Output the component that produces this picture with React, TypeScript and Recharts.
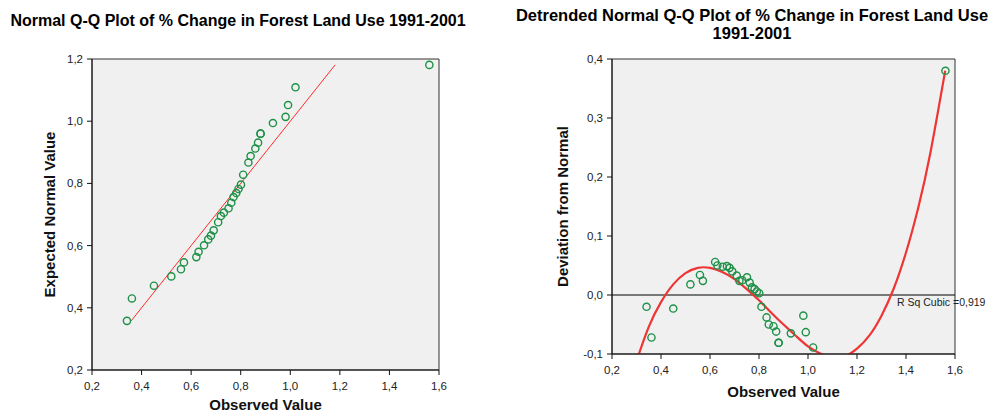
import { ComposedChart, Scatter, Line, XAxis, YAxis, CartesianGrid, ReferenceLine, ReferenceArea, Label } from "recharts";

// observed values (shared by both plots)
const observed = [0.341, 0.361, 0.45, 0.52, 0.559, 0.571, 0.621, 0.63, 0.652, 0.669, 0.68, 0.691, 0.709, 0.72, 0.732, 0.751, 0.762, 0.771, 0.782, 0.791, 0.801, 0.81, 0.831, 0.84, 0.859, 0.87, 0.88, 0.88, 0.93, 0.981, 0.991, 1.021, 1.561];
const expected = [0.358, 0.43, 0.471, 0.501, 0.524, 0.546, 0.563, 0.58, 0.601, 0.62, 0.632, 0.649, 0.675, 0.695, 0.706, 0.72, 0.738, 0.756, 0.769, 0.782, 0.796, 0.828, 0.867, 0.888, 0.912, 0.931, 0.96, 0.96, 0.994, 1.014, 1.052, 1.109, 1.181];
const deviation = [-0.02, -0.072, -0.023, 0.018, 0.034, 0.024, 0.056, 0.05, 0.048, 0.049, 0.046, 0.04, 0.033, 0.024, 0.025, 0.03, 0.021, 0.013, 0.01, 0.006, 0.003, -0.02, -0.038, -0.05, -0.053, -0.062, -0.081, -0.081, -0.065, -0.035, -0.063, -0.089, 0.38];

// reference line of the normal plot
const lineX = [0.358, 1.181];
const lineY = [0.358, 1.181];

// cubic fit curve of the detrended plot
const curveX = [0.3, 0.35, 0.4, 0.45, 0.5, 0.55, 0.6, 0.65, 0.7, 0.75, 0.8, 0.85, 0.9, 0.95, 1.0, 1.05, 1.1, 1.15, 1.2, 1.25, 1.3, 1.35, 1.4, 1.45, 1.5, 1.56];
const curveY = [-0.112, -0.054, -0.012, 0.018, 0.037, 0.046, 0.046, 0.039, 0.027, 0.01, -0.009, -0.03, -0.05, -0.069, -0.087, -0.099, -0.106, -0.104, -0.091, -0.069, -0.035, 0.011, 0.072, 0.148, 0.242, 0.38];

const xTicks = [0.2, 0.4, 0.6, 0.8, 1.0, 1.2, 1.4, 1.6];
const leftYTicks = [0.2, 0.4, 0.6, 0.8, 1.0, 1.2];
const rightYTicks = [-0.1, 0.0, 0.1, 0.2, 0.3, 0.4];

const qqData = observed.map((x, i) => ({ x, y: expected[i] }));
const detData = observed.map((x, i) => ({ x, y: deviation[i] }));
const lineData = lineX.map((x, i) => ({ x, y: lineY[i] }));
const curveData = curveX.map((x, i) => ({ x, y: curveY[i] }));

const FONT = '"Liberation Sans", Arial, sans-serif';
const fmt = (v: number) => v.toFixed(1).replace(".", ",");
const tickStyle = { fontSize: 11.5, fill: "#222", fontFamily: FONT };
const labelStyle = { fontSize: 15, fontWeight: 700, fill: "#111", fontFamily: FONT };

const Ring = (props: any) => (
  <circle cx={props.cx} cy={props.cy} r={3.6} fill="none" stroke="#1d9147" strokeWidth={1.4} />
);

export default function App() {
  return (
    <div style={{ position: "absolute", left: 0, top: 0, width: 991, height: 413, background: "#fff", fontFamily: FONT }}>
      <div style={{ position: "absolute", left: 0, top: 12, width: 476, textAlign: "center", fontSize: 16, fontWeight: 700, lineHeight: "18px", whiteSpace: "nowrap" }}>
        Normal Q-Q Plot of % Change in Forest Land Use 1991-2001
      </div>
      <div style={{ position: "absolute", left: 502, top: 7, width: 500, textAlign: "center", fontSize: 16.5, fontWeight: 700, lineHeight: "17.6px", whiteSpace: "nowrap" }}>
        Detrended Normal Q-Q Plot of % Change in Forest Land Use
        <br />
        1991-2001
      </div>

      <div style={{ position: "absolute", left: 0, top: 0 }}>
        <ComposedChart width={495} height={413} margin={{ top: 59, right: 56, bottom: 0, left: 0 }}>
          <CartesianGrid fill="#f0f0f0" horizontal={false} vertical={false} />
          <ReferenceArea x1={0.2} x2={1.6} y1={0.2} y2={1.2} fill="none" stroke="#333" strokeWidth={1} />
          <XAxis type="number" dataKey="x" domain={[0.2, 1.6]} ticks={xTicks} tickFormatter={fmt} height={43}
            stroke="#111" tickSize={5} tickMargin={7} tick={tickStyle}>
            <Label value="Observed Value" position="center" dy={13} style={labelStyle} />
          </XAxis>
          <YAxis type="number" dataKey="y" domain={[0.2, 1.2]} ticks={leftYTicks} tickFormatter={fmt} width={92}
            stroke="#111" tickSize={5} tickMargin={4} tick={tickStyle}>
            <Label value="Expected Normal Value" position="center" angle={-90} dx={4} style={labelStyle} />
          </YAxis>
          <Line data={lineData} dataKey="y" type="linear" stroke="#ff2a2a" strokeWidth={1} dot={false} isAnimationActive={false} />
          <Scatter data={qqData} dataKey="y" shape={Ring} isAnimationActive={false} />
        </ComposedChart>
      </div>

      <div style={{ position: "absolute", left: 495, top: 0 }}>
        <ComposedChart width={496} height={413} margin={{ top: 59, right: 36, bottom: 0, left: 0 }}>
          <CartesianGrid fill="#f0f0f0" horizontal={false} vertical={false} />
          <ReferenceArea x1={0.2} x2={1.6} y1={-0.1} y2={0.4} fill="none" stroke="#333" strokeWidth={1} />
          <XAxis type="number" dataKey="x" domain={[0.2, 1.6]} ticks={xTicks} tickFormatter={fmt} height={59}
            stroke="#111" tickSize={5} tickMargin={7} tick={tickStyle}>
            <Label value="Observed Value" position="center" dy={8} style={labelStyle} />
          </XAxis>
          <YAxis type="number" dataKey="y" domain={[-0.1, 0.4]} ticks={rightYTicks} tickFormatter={fmt} width={117}
            allowDataOverflow stroke="#111" tickSize={5} tickMargin={4} tick={tickStyle}>
            <Label value="Deviation from Normal" position="center" angle={-90} dx={9} style={labelStyle} />
          </YAxis>
          <ReferenceLine y={0} stroke="#000" strokeWidth={1}
            label={(p: any) => (
              <text x={p.viewBox.x + p.viewBox.width - 58} y={p.viewBox.y + 11} fontSize={10.5} fill="#222" fontFamily={FONT}>
                R Sq Cubic =0,919
              </text>
            )} />
          <Line data={curveData} dataKey="y" type="natural" stroke="#ee3535" strokeWidth={2.2} dot={false} isAnimationActive={false} />
          <Scatter data={detData} dataKey="y" shape={Ring} isAnimationActive={false} />
        </ComposedChart>
      </div>
    </div>
  );
}
